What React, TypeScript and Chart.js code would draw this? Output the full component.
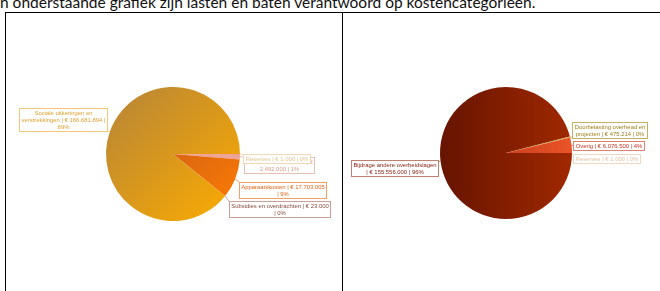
import React, { useEffect, useRef } from "react";
import { Chart, registerables } from "chart.js";
Chart.register(...registerables);

// ---- data ----
const lastenCategories = [
  "Reserves",
  "Goederen en diensten",
  "Apparaatskosten",
  "Subsidies en overdrachten",
  "Sociale uitkeringen en verstrekkingen",
];
const lastenValues = [1000, 2492000, 17703005, 23000, 166681894];

const batenCategories = [
  "Bijdrage andere overheidslagen",
  "Doorbelasting overhead en projecten",
  "Overig",
  "Reserves",
];
const batenValues = [155556000, 475214, 6076500, 1000];

const headerText =
  "n onderstaande grafiek zijn lasten en baten verantwoord op kostencategorieën.";

// ---- styles ----
type Grad = { from: string; to: string; dir: "diag" | "horiz" };
const lastenFills: (string | Grad)[] = [
  "#f2c0b0",
  "#eea496",
  { from: "#c0561c", to: "#f47606", dir: "diag" },
  "#b06040",
  { from: "#c08a30", to: "#f2a608", dir: "diag" },
];
const lastenText = ["#e2c294", "#d89c86", "#e06414", "#8a4c3c", "#e0a030"];
const lastenBorder = ["#f0d8b4", "#e8c0b0", "#f0a060", "#c8a098", "#f0c878"];

const batenFills: (string | Grad)[] = [
  { from: "#661400", to: "#a02800", dir: "horiz" },
  "#c8a848",
  { from: "#b02a10", to: "#ea5428", dir: "horiz" },
  "#f0c8a8",
];
const batenText = ["#8a2414", "#a08018", "#cc3020", "#e6c0a0"];
const batenBorder = ["#c08070", "#c8b060", "#e08070", "#f0d8c0"];

// label box placement relative to the pie centre; "split" = words per line
type Place = { dx: number; dy: number; align: "left" | "right"; split: number[] };
const lastenPlaces: Place[] = [
  { dx: 70, dy: -0.5, align: "left", split: [8] },
  { dx: 71, dy: 2.5, align: "left", split: [5, 3] },
  { dx: 66, dy: 27.5, align: "left", split: [4, 2] },
  { dx: 56, dy: 46.5, align: "left", split: [6, 2] },
  { dx: -66, dy: -46.5, align: "right", split: [3, 5, 1] },
];
const batenPlaces: Place[] = [
  { dx: -68, dy: 6.5, align: "right", split: [3, 5] },
  { dx: 66, dy: -31.5, align: "left", split: [3, 6] },
  { dx: 67, dy: -12.5, align: "left", split: [6] },
  { dx: 67, dy: 0.5, align: "left", split: [6] },
];

const fmt = (v: number) => v.toString().replace(/\B(?=(\d{3})+(?!\d))/g, ".");

function splitLines(text: string, split: number[]) {
  const words = text.split(" ");
  const lines: string[] = [];
  let k = 0;
  split.forEach((n, idx) => {
    const take = idx === split.length - 1 ? words.length - k : n;
    lines.push(words.slice(k, k + take).join(" "));
    k += take;
  });
  return lines.filter((l) => l.length);
}

const boxLabels = {
  id: "boxLabels",
  afterDatasetsDraw(chart: any, _args: any, opts: any) {
    const { ctx } = chart;
    const meta = chart.getDatasetMeta(0);
    const data: number[] = chart.data.datasets[0].data;
    const total = data.reduce((a, b) => a + b, 0);
    ctx.save();
    ctx.font = `${opts.fontSize}px ${opts.fontFamily}`;
    ctx.textBaseline = "middle";
    ctx.textAlign = "center";
    const lineH = 7;
    const padX = 2;
    const padY = 1;
    const order = meta.data.map((_: any, i: number) => i).reverse();
    for (const i of order) {
      const arc = meta.data[i];
      const { x, y, startAngle, endAngle, outerRadius } = arc.getProps(
        ["x", "y", "startAngle", "endAngle", "outerRadius"],
        true
      );
      const mid = (startAngle + endAngle) / 2;
      const ex = x + Math.cos(mid) * outerRadius;
      const ey = y + Math.sin(mid) * outerRadius;
      const place: Place = opts.places[i];
      const v = data[i];
      const pct = Math.round((v / total) * 100);
      const text = `${chart.data.labels[i]} | € ${fmt(v)} | ${pct}%`;
      const lines = splitLines(text, place.split);
      const w = Math.round(Math.max(...lines.map((l) => ctx.measureText(l).width)) + 2 * padX);
      const h = lines.length * lineH + 2 * padY;
      const left = Math.round(place.align === "right" ? x + place.dx - w : x + place.dx);
      const top = Math.round(y + place.dy);
      const nx = Math.min(Math.max(ex, left), left + w);
      const ny = Math.min(Math.max(ey, top), top + h);
      ctx.strokeStyle = opts.borders[i];
      ctx.lineWidth = 1;
      ctx.beginPath();
      ctx.moveTo(ex, ey);
      ctx.lineTo(nx, ny);
      ctx.stroke();
      ctx.fillStyle = "#ffffff";
      ctx.fillRect(left, top, w, h);
      ctx.strokeRect(left + 0.5, top + 0.5, w, h);
      ctx.fillStyle = opts.colors[i];
      lines.forEach((l, k) => {
        ctx.fillText(l, left + w / 2 + 0.5, top + padY + lineH * k + lineH / 2 + 1);
      });
    }
    ctx.restore();
  },
};

function makeFill(fills: (string | Grad)[]) {
  return (c: any) => {
    const f = fills[c.dataIndex];
    if (typeof f === "string") return f;
    const chart = c.chart;
    const area = chart.chartArea;
    if (!area) return f.from;
    const x = (area.left + area.right) / 2;
    const y = (area.top + area.bottom) / 2;
    const r = Math.min(area.right - area.left, area.bottom - area.top) / 2;
    const g =
      f.dir === "diag"
        ? chart.ctx.createLinearGradient(x - r * 0.7, y - r * 0.7, x + r * 0.7, y + r * 0.7)
        : chart.ctx.createLinearGradient(x - r, y, x + r, y);
    g.addColorStop(0, f.from);
    g.addColorStop(1, f.to);
    return g;
  };
}

function PieCanvas(props: {
  width: number;
  height: number;
  left: number;
  top: number;
  labels: string[];
  values: number[];
  fills: (string | Grad)[];
  colors: string[];
  borders: string[];
  places: Place[];
  padding: { left: number; right: number; top: number; bottom: number };
}) {
  const ref = useRef<HTMLCanvasElement>(null);
  useEffect(() => {
    if (!ref.current) return;
    const chart = new Chart(ref.current, {
      type: "pie",
      data: {
        labels: props.labels,
        datasets: [
          {
            data: props.values,
            backgroundColor: makeFill(props.fills) as any,
            borderWidth: 0,
          },
        ],
      },
      options: {
        responsive: false,
        animation: false,
        devicePixelRatio: 1,
        rotation: 90,
        layout: { padding: props.padding },
        plugins: {
          legend: { display: false },
          tooltip: { enabled: false },
          boxLabels: {
            fontSize: 5.9,
            fontFamily: "'Liberation Sans', Arial, sans-serif",
            colors: props.colors,
            borders: props.borders,
            places: props.places,
          },
        } as any,
      },
      plugins: [boxLabels as any],
    });
    return () => chart.destroy();
  }, []);
  return (
    <canvas
      ref={ref}
      width={props.width}
      height={props.height}
      style={{
        position: "absolute",
        left: props.left,
        top: props.top,
        width: props.width,
        height: props.height,
      }}
    />
  );
}

export default function App() {
  return (
    <div
      style={{
        position: "fixed",
        left: 0,
        top: 0,
        width: 660,
        height: 291,
        overflow: "hidden",
        background: "#fff",
      }}
    >
      <div
        style={{
          position: "absolute",
          left: 0,
          top: -7,
          whiteSpace: "nowrap",
          font: "15.5px Lato, 'Open Sans', sans-serif",
          lineHeight: "18px",
          color: "#111",
        }}
      >
        {headerText}
      </div>
      <div style={{ position: "absolute", left: 5, top: 12, width: 655, height: 1, background: "#000" }} />
      <div style={{ position: "absolute", left: 5, top: 12, width: 1, height: 279, background: "#000" }} />
      <div style={{ position: "absolute", left: 342, top: 12, width: 1, height: 279, background: "#000" }} />
      <PieCanvas
        left={6}
        top={13}
        width={335}
        height={278}
        labels={lastenCategories}
        values={lastenValues}
        fills={lastenFills}
        colors={lastenText}
        borders={lastenBorder}
        places={lastenPlaces}
        padding={{ left: 100, right: 101, top: 74, bottom: 70 }}
      />
      <PieCanvas
        left={343}
        top={13}
        width={317}
        height={278}
        labels={batenCategories}
        values={batenValues}
        fills={batenFills}
        colors={batenText}
        borders={batenBorder}
        places={batenPlaces}
        padding={{ left: 97, right: 88, top: 74, bottom: 72 }}
      />
    </div>
  );
}
